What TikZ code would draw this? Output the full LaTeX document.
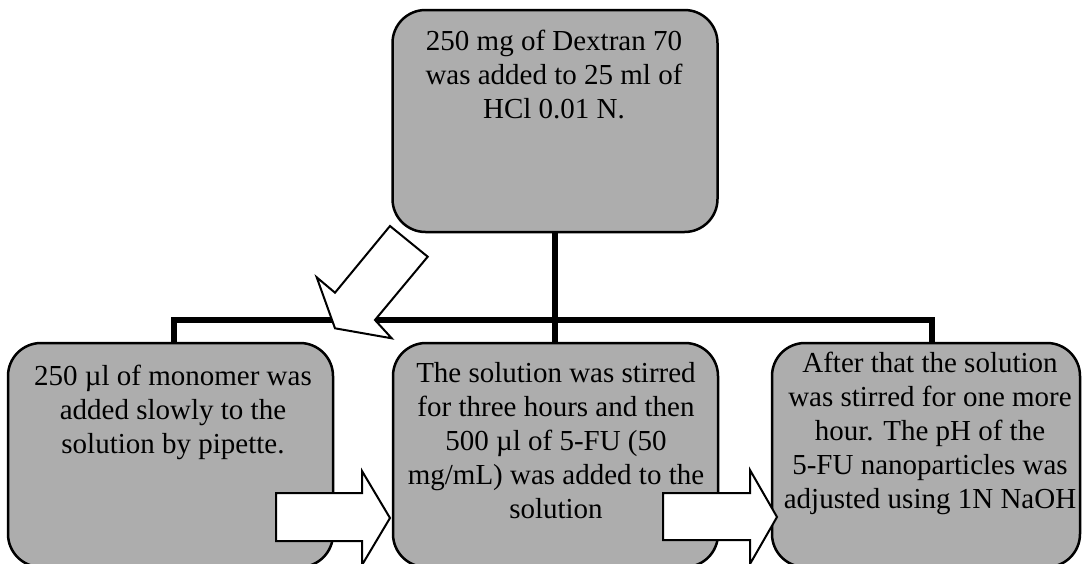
\documentclass[tikz,border=0pt]{standalone}
\usepackage{fontspec}
\setmainfont{Liberation Serif}
\definecolor{boxgray}{gray}{0.68}
\begin{document}
\begin{tikzpicture}[x=1pt,y=-1pt,
  stepbox/.style={draw=black, line width=2.5pt, fill=boxgray, rounded corners=33pt, inner sep=0pt, outer sep=0pt},
  steptext/.style={anchor=north, align=center, inner sep=0pt, font=\fontsize{29}{34}\selectfont},
  tree/.style={draw=black, line width=6pt, line join=miter},
  blockarrow/.style={draw=black, fill=white, line width=2pt, line join=miter}]
\useasboundingbox (0,0) rectangle (1085,563);
\clip (0,0) rectangle (1085,563);
% boxes
\node[stepbox, minimum width=325pt, minimum height=222pt] (top) at (555,121) {};
\node[stepbox, minimum width=325pt, minimum height=224pt] (left) at (170.5,455) {};
\node[stepbox, minimum width=325pt, minimum height=224pt] (mid) at (555.5,455) {};
\node[stepbox, minimum width=308pt, minimum height=224pt] (right) at (926,455) {};
% texts
\node[steptext] (ttop) at (554,29.5) {250 mg of Dextran 70\\was added to 25 ml of\\HCl 0.01 N.};
\node[steptext] (tleft) at (173,364.5) {250 µl of monomer was\\added slowly to the\\solution by pipette.};
\node[steptext] (tmid) at (556,362.5) {The solution was stirred\\for three hours and then\\500 µl of 5-FU (50\\mg/mL) was added to the\\solution};
\node[steptext] (tright) at (930,351.5) {After that the solution\\was stirred for one more\\hour. The pH of the\\5-FU nanoparticles was\\adjusted using 1N NaOH};
% tree connectors
\coordinate (jl) at (174,320);
\coordinate (jr) at (932,320);
\draw[tree] (top.south) -- (top.south |- mid.north);
\draw[tree] (jl |- left.north) -- (jl) -- (jr) -- (jr |- right.north);
% block arrows
\draw[blockarrow] (390,226) -- (427.7,256.7) -- (375,320) -- (391.7,338.3) -- (335,328.3) -- (316.7,277.3) -- (335,292.7) -- cycle;
\draw[blockarrow] (276,493) -- (362,493) -- (362,471) -- (390,518) -- (362,565) -- (362,541) -- (276,541) -- cycle;
\draw[blockarrow] (663,493) -- (750,493) -- (750,470) -- (777,517) -- (750,564) -- (750,540) -- (663,540) -- cycle;
\end{tikzpicture}
\end{document}
